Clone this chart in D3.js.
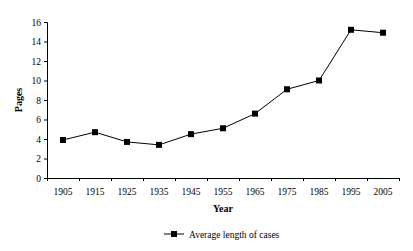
<!DOCTYPE html>
<html>
<head>
<meta charset="utf-8">
<script src="https://cdn.jsdelivr.net/npm/d3@7"></script>
<style>
  body { margin: 0; background: #fff; }
  text { font-family: "Liberation Serif", "Times New Roman", serif; fill: #000; }
</style>
</head>
<body>
<div id="chart"></div>
<script>
const years = ["1905", "1915", "1925", "1935", "1945", "1955", "1965", "1975", "1985", "1995", "2005"];
const avgLength = [3.9, 4.7, 3.7, 3.4, 4.5, 5.1, 6.6, 9.1, 10.0, 15.2, 14.9];
const yTicks = [0, 2, 4, 6, 8, 10, 12, 14, 16];
const seriesName = "Average length of cases";

const width = 413, height = 251;
const margin = {top: 22, right: 14, bottom: 73, left: 47};
const innerW = width - margin.left - margin.right;
const innerH = height - margin.top - margin.bottom;

const svg = d3.select("#chart").append("svg")
    .attr("width", width)
    .attr("height", height);

const g = svg.append("g")
    .attr("transform", `translate(${margin.left},${margin.top})`);

const x = d3.scaleBand().domain(years).range([0, innerW]);
const y = d3.scaleLinear().domain([0, 16]).range([innerH, 0]);

// y axis
const yAxis = g.append("g")
    .call(d3.axisLeft(y).tickValues(yTicks).tickSize(3).tickPadding(3));
yAxis.select(".domain").attr("stroke", "#000");
yAxis.selectAll("text").style("font-size", "9.5px");

// x axis, ticks at category boundaries
const xAxis = g.append("g")
    .attr("transform", `translate(0,${innerH})`)
    .call(d3.axisBottom(x).tickSize(0).tickPadding(10));
xAxis.select(".domain").attr("stroke", "#000");
xAxis.selectAll("text").style("font-size", "9.5px");
xAxis.selectAll(".bound")
    .data(years.concat([null]))
    .enter().append("line")
    .attr("x1", (d, i) => i * x.step() + 0.5)
    .attr("x2", (d, i) => i * x.step() + 0.5)
    .attr("y1", 0)
    .attr("y2", 3)
    .attr("stroke", "#000");

// axis titles
svg.append("text")
    .attr("transform", `translate(22,${margin.top + innerH / 2}) rotate(-90)`)
    .attr("text-anchor", "middle")
    .style("font-size", "10px")
    .style("font-weight", "bold")
    .text("Pages");

svg.append("text")
    .attr("x", margin.left + innerW / 2)
    .attr("y", 212)
    .attr("text-anchor", "middle")
    .style("font-size", "10px")
    .style("font-weight", "bold")
    .text("Year");

// series
const line = d3.line()
    .x((d, i) => x(years[i]) + x.bandwidth() / 2)
    .y(d => y(d));

g.append("path")
    .datum(avgLength)
    .attr("fill", "none")
    .attr("stroke", "#000")
    .attr("stroke-width", 1)
    .attr("d", line);

g.selectAll(".pt")
    .data(avgLength)
    .enter().append("rect")
    .attr("class", "pt")
    .attr("x", (d, i) => x(years[i]) + x.bandwidth() / 2 - 3)
    .attr("y", d => y(d) - 3)
    .attr("width", 6)
    .attr("height", 6)
    .attr("fill", "#000");

// legend
const leg = svg.append("g").attr("transform", "translate(164,234)");
leg.append("line").attr("x1", 0).attr("x2", 20).attr("y1", 0).attr("y2", 0)
    .attr("stroke", "#000");
leg.append("rect").attr("x", 7).attr("y", -3).attr("width", 6).attr("height", 6)
    .attr("fill", "#000");
leg.append("text").attr("x", 25).attr("y", 3.5)
    .style("font-size", "9.5px")
    .text(seriesName);
</script>
</body>
</html>
